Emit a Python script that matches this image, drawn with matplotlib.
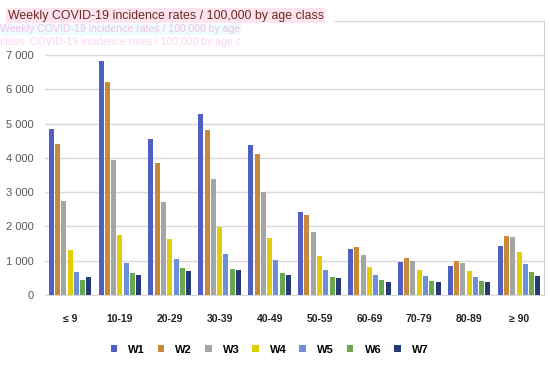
import matplotlib
matplotlib.use('Agg')
import matplotlib.pyplot as plt
from matplotlib.lines import Line2D
import numpy as np

plt.rcParams['font.family'] = ['Liberation Sans', 'DejaVu Sans']

age_classes = ['≤ 9', '10-19', '20-29', '30-39', '40-49',
               '50-59', '60-69', '70-79', '80-89', '≥ 90']
weeks = ['W1', 'W2', 'W3', 'W4', 'W5', 'W6', 'W7']

w1 = [4850, 6830, 4540, 5270, 4370, 2410, 1350, 950, 845, 1430]
w2 = [4400, 6220, 3850, 4810, 4110, 2330, 1400, 1070, 990, 1720]
w3 = [2750, 3950, 2720, 3390, 2990, 1830, 1175, 990, 940, 1680]
w4 = [1320, 1760, 1620, 1980, 1670, 1140, 810, 730, 700, 1250]
w5 = [660, 920, 1060, 1205, 1010, 730, 585, 545, 515, 915]
w6 = [450, 630, 780, 770, 650, 515, 440, 410, 410, 660]
w7 = [520, 590, 710, 730, 575, 480, 370, 370, 370, 555]
series = [w1, w2, w3, w4, w5, w6, w7]

colors = ['#4f5fc4', '#c8893a', '#a5a5a5', '#e3cc08',
          '#6b90d8', '#6aa84f', '#263a73']

fig = plt.figure(figsize=(5.5, 3.65), dpi=100)
# axes box runs up to the chart frame at the top (y ~ 21 px)
ax = fig.add_axes([0.082, 0.192, 0.907, 0.750])

x = np.arange(len(age_classes))
pitch = 0.126
bw = 0.1
for i, (vals, c, lab) in enumerate(zip(series, colors, weeks)):
    ax.bar(x + (i - 3) * pitch, vals, width=bw, color=c, label=lab, zorder=3)

ax.set_xlim(-0.5, len(age_classes) - 0.5)
ax.set_ylim(0, 7990)
ax.set_yticks(range(0, 7001, 1000))
ax.set_yticklabels(['0' if v == 0 else '%d %03d' % (v // 1000, v % 1000)
                    for v in range(0, 7001, 1000)])
ax.yaxis.grid(True, color='#d9d9d9', linewidth=1.0, zorder=0)
ax.set_xticks(x)
ax.set_xticklabels(age_classes, fontsize=7.5, fontweight='bold', color='#222222')
ax.tick_params(axis='y', length=0, labelsize=8, labelcolor='#595959', pad=8)
ax.tick_params(axis='x', length=0, pad=14)
for s in ['top', 'left']:
    ax.spines[s].set_visible(False)
ax.spines['bottom'].set_color('#d9d9d9')
ax.spines['right'].set_color('#d0d0d0')

# top frame line (right of the title)
fig.add_artist(Line2D([335 / 550, 544 / 550], [1 - 21 / 365, 1 - 21 / 365],
                      color='#d9d9d9', linewidth=1.0))

leg = fig.legend(loc='center', bbox_to_anchor=(0.49, 0.042), ncol=7, frameon=False,
                 handlelength=0.6, handleheight=0.6, handletextpad=1.0,
                 columnspacing=1.15, prop={'size': 8, 'weight': 'bold'})

# title (with the ghosting seen in the source image)
fig.text(0.014, 0.948, 'Weekly COVID-19 incidence rates / 100,000 by age class',
         fontsize=8.9, color='#6b2a22',
         bbox=dict(boxstyle='square,pad=0.12', fc='#fde4ef', ec='none'))
fig.text(0.0, 0.912, 'Weekly COVID-19 incidence rates / 100,000 by age',
         fontsize=7.6, color='#f6b0e8', alpha=0.8,
         bbox=dict(boxstyle='square,pad=0.05', fc='#eefcfe', ec='none'))
fig.text(0.0, 0.878, 'class  COVID-19 incidence rates / 100,000 by age c',
         fontsize=7.6, color='#f9c4ef', alpha=0.7)

fig.savefig('out.png', dpi=100)
